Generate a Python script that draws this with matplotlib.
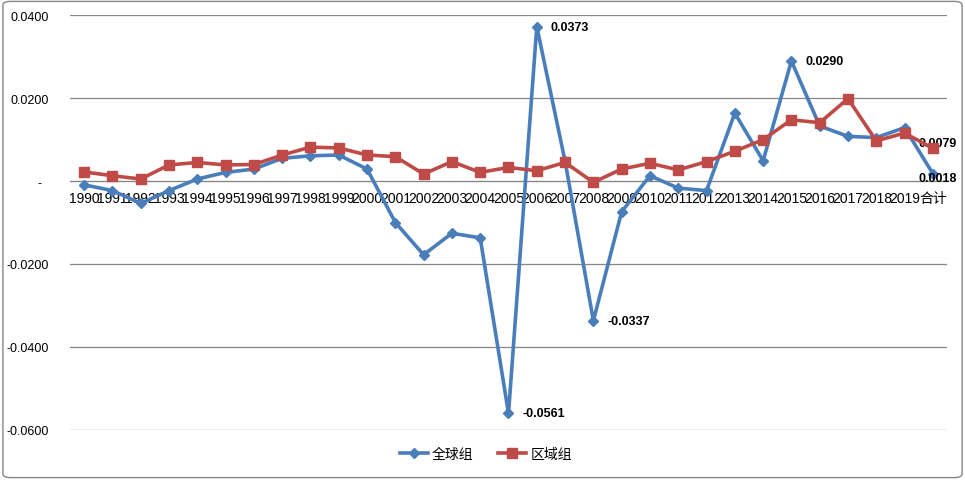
import matplotlib.pyplot as plt
from matplotlib.patches import FancyBboxPatch

plt.rcParams['font.family'] = ['Liberation Sans', 'Noto Sans CJK SC']

# ----------------------------
# Data
# ----------------------------
years = [str(y) for y in range(1990, 2020)] + ['合计']

global_grp = [-0.0009, -0.0023, -0.0054, -0.0023, 0.0005, 0.0021, 0.0029, 0.0055,
              0.0061, 0.0063, 0.0029, -0.0100, -0.0178, -0.0126, -0.0137, -0.0561,
              0.0373, 0.0048, -0.0337, -0.0074, 0.0013, -0.0017, -0.0023, 0.0164,
              0.0049, 0.0290, 0.0133, 0.0108, 0.0105, 0.0129, 0.0018]

region_grp = [0.0022, 0.0013, 0.0005, 0.0039, 0.0045, 0.0039, 0.0040, 0.0063,
              0.0082, 0.0080, 0.0063, 0.0059, 0.0017, 0.0047, 0.0021, 0.0033,
              0.0025, 0.0045, -0.0003, 0.0029, 0.0043, 0.0027, 0.0047, 0.0072,
              0.0100, 0.0148, 0.0141, 0.0199, 0.0097, 0.0116, 0.0079]

yticks = [0.04, 0.02, 0.0, -0.02, -0.04, -0.06]
ytick_labels = ['0.0400', '0.0200', '-  ', '-0.0200', '-0.0400', '-0.0600']

# which points carry a data label (category index)
labelled_global = [15, 16, 18, 25, 30]
labelled_region = [30]

blue = '#4a7ebb'
red = '#be4b48'

# ----------------------------
# Plot
# ----------------------------
fig = plt.figure(figsize=(9.65, 4.81), dpi=100)
ax = fig.add_axes([70 / 965, 1 - 431 / 481, 877 / 965, 415 / 481])

x = list(range(len(years)))
ax.plot(x, global_grp, color=blue, lw=2.6, marker='D', ms=5.5, label='全球组', zorder=3)
ax.plot(x, region_grp, color=red, lw=2.6, marker='s', ms=6.5, label='区域组', zorder=4)

ax.set_xlim(-0.5, len(years) - 0.5)
ax.set_ylim(-0.0601, 0.0401)
ax.set_yticks(yticks)
ax.set_yticklabels(ytick_labels, fontsize=9)
ax.set_xticks(x)
ax.set_xticklabels(years, fontsize=9)
ax.tick_params(axis='both', length=0)
ax.tick_params(axis='y', pad=15)
ax.tick_params(axis='x', pad=7)

for s in ['top', 'right', 'left']:
    ax.spines[s].set_visible(False)
ax.spines['bottom'].set_position(('data', 0))
ax.spines['bottom'].set_color('#868686')
ax.grid(axis='y', color='#868686', lw=0.9)
ax.set_axisbelow(True)

# data labels
last = len(years) - 1
for i in labelled_global:
    v = global_grp[i]
    off = (-10, -3) if i == last else (10, 0)
    ax.annotate(f'{v:.4f}', (i, v), xytext=off, textcoords='offset points',
                fontsize=9, fontweight='bold', va='center', ha='left')
for i in labelled_region:
    v = region_grp[i]
    ax.annotate(f'{v:.4f}', (i, v), xytext=(-10, 4), textcoords='offset points',
                fontsize=9, fontweight='bold', va='center', ha='left')

fig.legend(loc='center', bbox_to_anchor=(486 / 965, 1 - 455 / 481), ncol=2,
           frameon=False, fontsize=10, handlelength=2.0, columnspacing=1.8,
           handletextpad=0.3)

# chart border
fig.patches.append(FancyBboxPatch((0.003, 0.005), 0.994, 0.99,
                                  boxstyle='round,pad=0,rounding_size=0.008',
                                  transform=fig.transFigure, fill=False,
                                  ec='#868686', lw=1))

plt.savefig('out.png', dpi=100)
